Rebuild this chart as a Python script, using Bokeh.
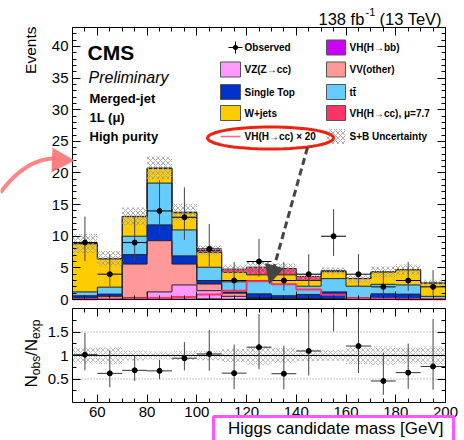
import numpy as np
from bokeh.plotting import figure
from bokeh.layouts import column
from bokeh.models import (Label, BoxAnnotation, PolyAnnotation, Arrow, NormalHead,
                          LinearAxis, FixedTicker, Range1d)
from bokeh.embed import file_html
from bokeh.resources import INLINE

# ---------------- data ----------------
bin_low = [50, 60, 70, 80, 90, 100, 110, 120, 130, 140, 150, 160, 170, 180, 190]
bin_high = [60, 70, 80, 90, 100, 110, 120, 130, 140, 150, 160, 170, 180, 190, 200]

observed = [9, 4, 9, 14, 13, 8, 3, 6, 3, 4, 10, 4, 2, 3, 2]
observed_band_low = [6.06, 2.09, 6.06, 10.30, 9.43, 5.23, 1.37, 3.62, 1.37, 2.09, 6.89, 2.09, 0.71, 1.37, 0.71]
observed_band_high = [13.11, 7.16, 13.11, 18.87, 17.73, 11.95, 5.92, 9.58, 5.92, 7.16, 14.27, 7.16, 4.64, 5.92, 4.64]

vh_bb = [0.05, 0.05, 0.05, 0.05, 0.05, 0.1, 0.05, 0.1, 0.05, 0.05, 0.05, 0.02, 0.02, 0.02, 0.01]
vz_cc = [0.05, 0.05, 0.25, 1.15, 2.25, 1.3, 0.45, 0.05, 0.05, 0.05, 0.03, 0.03, 0.02, 0.01, 0.01]
vv_other = [0.1, 0.4, 5.3, 8.1, 3.3, 1.05, 0.5, 0.1, 0.1, 0.05, 0.02, 0.03, 0.02, 0.02, 0.01]
single_top = [0.4, 0.35, 1.5, 2.5, 1.3, 0.55, 0.2, 0.65, 0.4, 0.65, 1.1, 0.22, 0.84, 0.8, 0.07]
ttbar = [0.6, 1.1, 2.9, 6.6, 4.1, 2.1, 1.6, 2.1, 1.8, 1.3, 2.1, 1.8, 1.5, 1.45, 0.4]
w_jets = [7.6, 4.45, 3.1, 2.3, 2.7, 2.35, 1.5, 0.9, 1.5, 0.9, 1.1, 1.2, 1.95, 2.4, 2.1]
vh_cc = [0.05, 0.05, 0.05, 0.1, 0.1, 0.3, 0.5, 1.2, 1.0, 0.65, 0.15, 0.03, 0.02, 0.02, 0.01]
vh_cc_x20 = [0.05, 0.1, 0.15, 0.25, 0.4, 0.8, 1.4, 2.9, 2.4, 1.6, 0.75, 0.2, 0.1, 0.05, 0.03]
sb_uncertainty = [1.5, 1.2, 1.4, 1.8, 1.35, 0.8, 0.7, 1.0, 0.8, 0.45, 0.5, 0.6, 0.85, 0.8, 0.5]

x_major_ticks = [60, 80, 100, 120, 140, 160, 180, 200]
y_major_ticks = [0, 5, 10, 15, 20, 25, 30, 35, 40]
ratio_ticks = [0.5, 1, 1.5]
ratio_tick_labels = ["0.5", "1", "1.5"]
x_min, x_max = 50, 200
y_max = 43
ratio_min, ratio_max = 0, 2

FONT = "Liberation Sans"

C_VHBB = "#cc00ff"
C_VZCC = "#ff99ff"
C_VV = "#ff9999"
C_ST = "#0033cc"
C_TT = "#66ccff"
C_WJ = "#ffcc00"
C_VHCC = "#ff3366"

components = [
    (vh_bb, C_VHBB), (vz_cc, C_VZCC), (vv_other, C_VV), (single_top, C_ST),
    (ttbar, C_TT), (w_jets, C_WJ), (vh_cc, C_VHCC),
]

lo = np.array(bin_low, float)
hi = np.array(bin_high, float)
ctr = (lo + hi) / 2
edges = list(bin_low) + [bin_high[-1]]
obs = np.array(observed, float)

# ---------------- layout (pixels) ----------------
W = 464
H_TOP, H_BOT = 307, 133
BOX_L, BOX_R = 72, 445           # plot box horizontal edges
TOP_BOX_T, TOP_BOX_B = 27, 299   # top panel box (global px)
BOT_BOX_T, BOT_BOX_B = 308, 402  # ratio panel box (global px)

kx = (BOX_R - BOX_L) / (x_max - x_min)
x_view = Range1d(x_min - BOX_L / kx, x_max + (W - BOX_R) / kx)
ky = (TOP_BOX_B - TOP_BOX_T) / y_max
y_view = Range1d(0 - (H_TOP - TOP_BOX_B) / ky, y_max + TOP_BOX_T / ky)
kr = (BOT_BOX_B - BOT_BOX_T) / (ratio_max - ratio_min)
r_view = Range1d(ratio_min - (H_TOP + H_BOT - BOT_BOX_B) / kr, ratio_max + (BOT_BOX_T - H_TOP) / kr)


def T(x, y):  # global px -> top canvas screen units (frame == canvas)
    return x, H_TOP - y


def B(x, y):
    return x, H_TOP + H_BOT - y


# ---------------- helpers ----------------
def make_axis(fig, side, loc, ticks_major, ticks_minor, labels=True, overrides=None):
    ax = LinearAxis(fixed_location=loc)
    ax.ticker = FixedTicker(ticks=ticks_major, minor_ticks=ticks_minor)
    ax.major_tick_in = 8
    ax.major_tick_out = 0
    ax.minor_tick_in = 4
    ax.minor_tick_out = 0
    ax.axis_line_color = None
    ax.major_tick_line_color = "black"
    ax.minor_tick_line_color = "black"
    ax.major_label_text_font = FONT
    ax.major_label_text_color = "black"
    ax.major_label_standoff = 4
    if labels:
        ax.major_label_text_font_size = "15px"
        if overrides:
            ax.major_label_overrides = overrides
    else:
        ax.major_label_text_font_size = "0px"
        ax.major_label_standoff = 0
        ax.major_label_overrides = {t: "" for t in ticks_major}
    fig.add_layout(ax, side)


def add_label(fig, conv, x, y, text, size, style="normal", align="left",
              baseline="alphabetic", angle=0.0, color="black"):
    sx, sy = conv(x, y)
    fig.add_layout(Label(x=sx, y=sy, x_units="screen", y_units="screen", text=text,
                         text_font=FONT, text_font_size=f"{size}px", text_font_style=style,
                         text_align=align, text_baseline=baseline, angle=angle,
                         text_color=color))


def add_box(fig, conv, x0, y0, x1, y1, fill=None, line="#555555", lw=1, hatch=None):
    l, t = conv(x0, y0)
    r, b = conv(x1, y1)
    kw = dict(left=l, right=r, top=t, bottom=b, left_units="screen", right_units="screen",
              top_units="screen", bottom_units="screen", line_color=line if line else "black",
              line_width=lw, line_alpha=1.0 if line else 0.0)
    if fill:
        kw.update(fill_color=fill, fill_alpha=1.0)
    else:
        kw.update(fill_alpha=0.0)
    if hatch:
        kw.update(hatch_pattern=hatch, hatch_color="#999999", hatch_scale=5, hatch_weight=0.8, hatch_alpha=1.0)
    fig.add_layout(BoxAnnotation(**kw))


def add_poly(fig, conv, pts, fill=None, line=None, lw=1, line_alpha=1.0, fill_alpha=1.0):
    xs, ys = [], []
    for (x, y) in pts:
        a, b = conv(x, y)
        xs.append(a)
        ys.append(b)
    fig.add_layout(PolyAnnotation(xs=xs, ys=ys, xs_units="screen", ys_units="screen",
                                  fill_color=fill if fill else "white",
                                  fill_alpha=fill_alpha if fill else 0.0,
                                  line_color=line if line else "black",
                                  line_alpha=line_alpha if line else 0.0, line_width=lw))


def add_line(fig, conv, x0, y0, x1, y1, color="black", lw=1, dash="solid", head=None):
    a, b = conv(x0, y0)
    c, d = conv(x1, y1)
    fig.add_layout(Arrow(x_start=a, y_start=b, x_end=c, y_end=d, start_units="screen",
                         end_units="screen", line_color=color, line_width=lw, line_dash=dash,
                         start=None, end=head))


def base_figure(height, y_range):
    f = figure(width=W, height=height, x_range=x_view, y_range=y_range,
               output_backend="svg", toolbar_location=None,
               x_axis_location=None, y_axis_location=None,
               min_border=0, min_border_left=0, min_border_right=0,
               min_border_top=0, min_border_bottom=0)
    f.xgrid.visible = False
    f.ygrid.visible = False
    f.outline_line_color = None
    f.background_fill_color = "white"
    f.border_fill_color = "white"
    return f

# ---------------- top panel ----------------
p = base_figure(H_TOP, y_view)

minor_x = [v for v in range(x_min, x_max + 1, 5) if v not in x_major_ticks]
minor_y = [v for v in range(0, y_max + 1) if v % 5 != 0]
make_axis(p, "left", x_min, y_major_ticks, minor_y, labels=True)
make_axis(p, "right", x_max, y_major_ticks, minor_y, labels=False)
make_axis(p, "below", 0, x_major_ticks, minor_x, labels=False)
make_axis(p, "above", y_max, x_major_ticks, minor_x, labels=False)

bottom = np.zeros(len(bin_low))
levels = []
for vals, col in components:
    top = bottom + np.array(vals, float)
    p.quad(left=lo, right=hi, bottom=bottom, top=top, fill_color=col, line_color=None)
    levels.append(top)
    bottom = top
total = bottom

for top in levels:
    p.step(x=edges, y=list(top) + [top[-1]], mode="after", line_color="#222222", line_width=1)

x20 = np.array(vh_cc_x20, float)
p.step(x=edges, y=list(x20) + [x20[-1]], mode="after", line_color="#ff3366", line_width=2)

unc = np.array(sb_uncertainty, float)
p.quad(left=lo, right=hi, bottom=total - unc, top=total + unc, fill_color="white", fill_alpha=0.0,
       line_color=None, hatch_pattern="x", hatch_color="#999999", hatch_scale=5,
       hatch_weight=0.8, hatch_alpha=1.0)

p.segment(x0=ctr, y0=observed_band_low, x1=ctr, y1=observed_band_high, line_color="#444444", line_width=1)
p.segment(x0=lo, y0=obs, x1=hi, y1=obs, line_color="black", line_width=1)
p.scatter(x=ctr, y=obs, size=5, marker="circle", color="black")

p.add_layout(BoxAnnotation(left=x_min, right=x_max, bottom=0, top=y_max, fill_alpha=0.0,
                           line_color="black", line_alpha=1.0, line_width=1))

# texts
add_label(p, T, 318, 18, "138 fb", 16.5)
add_label(p, T, 365, 11, "-1", 11)
add_label(p, T, 379, 18, "(13 TeV)", 16.5)
add_label(p, T, 30, 26, "Events", 15.5, align="right", angle=np.pi / 2)
add_label(p, T, 87, 52, "CMS", 21, style="bold")
add_label(p, T, 88, 77, "Preliminary", 16, style="italic")
add_label(p, T, 89, 98, "Merged-jet", 13, style="bold")
add_label(p, T, 89, 117, "1L (\u03bc)", 13, style="bold")
add_label(p, T, 89, 135.5, "High purity", 13, style="bold")

# legend
rows = [47, 69, 91.5, 112.5, 136]
c1s, c1t = (220, 240), 244
c2s, c2t = (326, 345), 349
LF = 10
add_line(p, T, 228, rows[0], 242, rows[0], color="black", lw=1)
add_line(p, T, 235, rows[0] - 6, 235, rows[0] + 6, color="black", lw=1)
add_poly(p, T, [(235 + 2.6 * np.cos(a), rows[0] + 2.6 * np.sin(a)) for a in np.linspace(0, 2 * np.pi, 12, endpoint=False)], fill="black")
add_label(p, T, c1t, rows[0], "Observed", LF, style="bold", baseline="middle")
legend_boxes = [
    (c2s, 0, C_VHBB, "VH(H\u2192bb)", c2t),
    (c1s, 1, C_VZCC, "VZ(Z\u2192cc)", c1t),
    (c2s, 1, C_VV, "VV(other)", c2t),
    (c1s, 2, C_ST, "Single Top", c1t),
    (c2s, 2, C_TT, "tt\u0304", c2t),
    (c1s, 3, C_WJ, "W+jets", c1t),
    (c2s, 3, C_VHCC, "VH(H\u2192cc),  \u03bc=7.7", c2t),
]
for (xs_, rr, col, txt, tx) in legend_boxes:
    add_box(p, T, xs_[0], rows[rr] - 7.5, xs_[1], rows[rr] + 7.5, fill=col, line="#555555")
    add_label(p, T, tx, rows[rr], txt, LF, style="bold", baseline="middle")
add_line(p, T, 220, rows[4], 240, rows[4], color="#ff6688", lw=1.5)
add_label(p, T, c1t, rows[4], "VH(H\u2192cc)  \u00d7 20", LF, style="bold", baseline="middle")
add_box(p, T, c2s[0], rows[4] - 7.5, c2s[1], rows[4] + 7.5, fill=None, line=None, hatch="x")
add_label(p, T, c2t, rows[4], "S+B Uncertainty", LF, style="bold", baseline="middle")

# hand-drawn annotations
ell = [(270 + 63 * np.cos(a), 137.5 + 11 * np.sin(a)) for a in np.linspace(0, 2 * np.pi, 60, endpoint=False)]
add_poly(p, T, ell, fill=None, line="#ee2211", lw=3)
add_line(p, T, 307, 147, 269, 283, color="#444444", lw=3, dash="7 4",
         head=NormalHead(size=18, fill_color="#444444", line_color="#444444"))
tt_ = np.linspace(0, 1, 20)
curve = [(2 * (1 - t) * t * 25 + t ** 2 * 55,
          (1 - t) ** 2 * 192 + 2 * (1 - t) * t * 158 + t ** 2 * 158) for t in tt_]
add_poly(p, T, curve + curve[::-1], fill=None, line="#ff7070", lw=4, line_alpha=0.85)
add_poly(p, T, [(52, 147), (51, 172), (74, 160)], fill="#ff7070", fill_alpha=0.9)

# ---------------- ratio panel ----------------
r = base_figure(H_BOT, r_view)
ratio_minor = [0.25, 0.75, 1.25, 1.75]
make_axis(r, "left", x_min, ratio_ticks, ratio_minor, labels=True,
          overrides=dict(zip(ratio_ticks, ratio_tick_labels)))
make_axis(r, "right", x_max, ratio_ticks, ratio_minor, labels=False)
make_axis(r, "below", ratio_min, x_major_ticks, minor_x, labels=True)
make_axis(r, "above", ratio_max, x_major_ticks, minor_x, labels=False)

r.quad(left=lo, right=hi, bottom=1 - unc / total, top=1 + unc / total, fill_color="white",
       fill_alpha=0.0, line_color=None, hatch_pattern="x", hatch_color="#aaaaaa",
       hatch_scale=5, hatch_weight=0.8, hatch_alpha=1.0)
for lvl in [0.5, 1.5]:
    r.segment(x0=[bin_low[0]], x1=[bin_high[-1]], y0=[lvl], y1=[lvl], line_color="#888888",
              line_dash="1 2", line_width=1)
r.segment(x0=[bin_low[0]], x1=[bin_high[-1]], y0=[1.0], y1=[1.0], line_color="black", line_width=1)

ratio = obs / total
r.segment(x0=ctr, y0=np.array(observed_band_low) / total, x1=ctr, y1=np.array(observed_band_high) / total,
          line_color="#444444", line_width=1)
r.segment(x0=lo, y0=ratio, x1=hi, y1=ratio, line_color="#333333", line_width=1)
r.scatter(x=ctr, y=ratio, size=5, marker="circle", color="black")

r.add_layout(BoxAnnotation(left=x_min, right=x_max, bottom=ratio_min, top=ratio_max, fill_alpha=0.0,
                           line_color="black", line_alpha=1.0, line_width=1))

# rotated y label N_obs/N_exp
add_label(r, B, 31, 387, "N", 17, angle=np.pi / 2)
add_label(r, B, 35, 374.7, "obs", 12, angle=np.pi / 2)
add_label(r, B, 31, 355.4, "/", 17, angle=np.pi / 2)
add_label(r, B, 31, 350.7, "N", 17, angle=np.pi / 2)
add_label(r, B, 35, 338.4, "exp", 12, angle=np.pi / 2)

add_label(r, B, 443, 428, "Higgs candidate mass [GeV]", 17, align="right")
add_box(r, B, 213, 416, 453, 446, fill=None, line="#ff55ff", lw=3)

layout = column(p, r, spacing=0)
open("out.html", "w").write(file_html(layout, INLINE))
